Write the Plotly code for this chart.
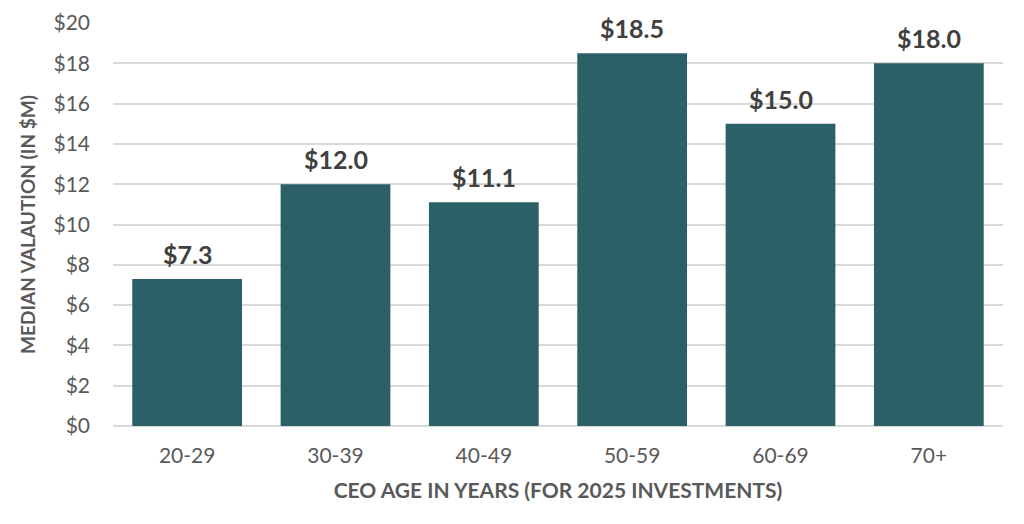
import plotly.graph_objects as go

ages = ["20-29", "30-39", "40-49", "50-59", "60-69", "70+"]
median_val = [7.3, 12.0, 11.1, 18.5, 15.0, 18.0]
y_ticks = list(range(0, 21, 2))
y_tick_text = [f"${v}" for v in y_ticks]

fig = go.Figure()
fig.add_trace(go.Bar(
    x=ages, y=median_val,
    marker=dict(color="#2b6067", line=dict(width=0)),
))

# value labels above the bars
for a, v in zip(ages, median_val):
    fig.add_annotation(
        x=a, y=v, text=f"${v:.1f}", showarrow=False,
        yanchor="bottom", yshift=8,
        font=dict(family="Lato", size=25, color="#404040", weight="bold"),
    )

fig.update_layout(
    width=1024, height=524,
    margin=dict(l=105, r=29, t=15, b=106),
    plot_bgcolor="white", paper_bgcolor="white",
    bargap=0.26, showlegend=False,
    font=dict(family="Lato", color="#595959"),
)
fig.update_xaxes(
    title=dict(text="CEO AGE IN YEARS (FOR 2025 INVESTMENTS)", standoff=17,
               font=dict(size=21, color="#595959", weight="bold")),
    tickfont=dict(size=21, color="#595959"),
    showgrid=False, showline=False, ticks="", ticklabelstandoff=15,
    automargin=False,
)
fig.update_yaxes(
    title=dict(text="MEDIAN VALAUTION (IN $M)", standoff=12,
               font=dict(size=19, color="#595959", weight="bold")),
    range=[0, 20], tickvals=y_ticks, ticktext=y_tick_text,
    tickfont=dict(size=21, color="#595959"),
    showgrid=True, gridcolor="#d9d9d9", gridwidth=1.5,
    zeroline=True, zerolinecolor="#d9d9d9", zerolinewidth=1.5,
    ticks="", ticklabelstandoff=22,
    automargin=False,
)
fig.write_html("out.html")
